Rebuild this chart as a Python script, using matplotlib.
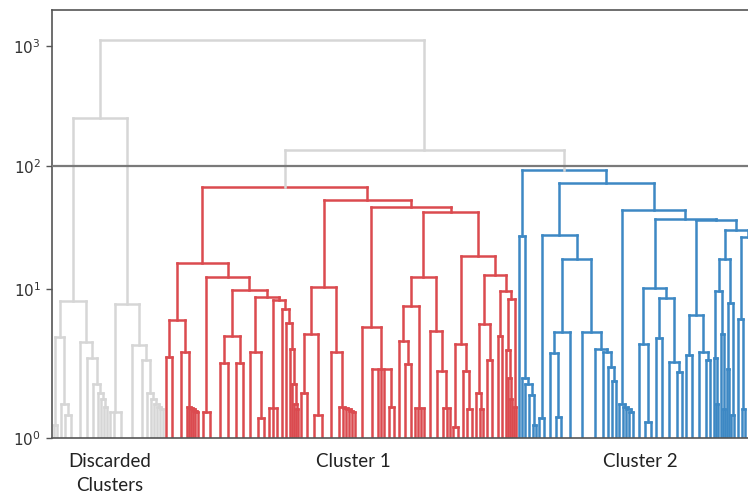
import numpy as np
import matplotlib
matplotlib.use("Agg")
import matplotlib.pyplot as plt
from matplotlib.collections import LineCollection
from matplotlib.ticker import FixedLocator, FuncFormatter

# Dendrogram.
# node = (merge height, child, child, ...); an int is a leaf group of that many
# points (they merge below 10^0, so only one line shows above the axis)
grey_left = (8.0,
    (4.25, (1.15, 3, 4), (1.5, 4, (1.3, 3, 9))),
    (3.9, 9, (3.0, 6, (2.0, 6, (1.75, 3, (1.6, 3, (1.45, 3, 3)))))))
grey_right = (7.6,
    (1.35, 4, 4, 10),
    (3.7, 12, (2.9, 7, (1.75, 4, (1.6, 3, (1.5, 3, (1.45, 3, (1.4, 3, 3))))))))
grey_top = 253

red_left = (16.1,
    (5.7, (3.05, 3, 10), (3.3, 8, (1.45, 3, (1.42, 2, (1.4, 2, (1.38, 2, (1.35, 2, 4))))))),
    (12.4, (1.35, 5, 10),
        (9.8, (4.3, (2.75, 9, 8), (2.75, 8, 6)),
            (8.6, (3.3, 8, (1.26, 7, 6)),
                (8.2, (1.43, 4, 3, 5),
                    (6.9, 5, (5.4, 4, (3.5, 3, (2.0, 2, (1.5, 2, (1.4, 2, 2)))))))))))
red_right = (52.8,
    (10.4, (4.5, (1.75, 4, 7), (1.3, 7, 9)),
           (3.3, 10, (1.45, 5, (1.42, 3, (1.4, 3, (1.38, 3, (1.35, 3, 4))))))),
    (46.3, (5.05, 10, (2.5, 9, 3, 3, 4, (1.45, 5, 5))),
        (42.1,
            (12.4, (7.3, (4.0, 6, (2.7, 6, 5)), (1.43, 3, 3, 3, 4)),
                   (4.7, 7, (2.45, 8, (1.43, 4, 3, 3)))),
            (18.4, (3.8, (1.13, 4, 5), (2.45, 5, (1.4, 4, 5))),
                   (12.9, (5.3, (1.75, 4, (1.4, 3, 4)), (2.9, 4, 6)),
                          (9.6, (4.3, 5, 4),
                                (8.3, (3.4, 3, (2.2, 2, (1.6, 2, 2))), (1.45, 2, 2))))))))
red_top = 67.6

blue_left = (26.7, 3, (2.2, 3, (2.0, 4, (1.7, 4, (1.15, 3, 3)))))
blue_right = (73,
    (27.3, (1.26, 4, 6),
           (17.4, (4.6, (3.25, 6, (1.27, 5, 6)), 11),
                  (4.6, 14, (3.5, 11, (3.3, 6, (2.6, 4, (2.1, 4, 3))))))),
    (43.7, (1.5, 4, (1.45, 3, (1.4, 3, (1.35, 3, 5)))),
        (36.9, (10.2, (3.8, 7, (1.2, 6, 5)), (8.5, (4.2, 5, 7), (2.8, 8, (2.4, 7, 4)))),
            (36.2, (6.2, (3.15, 4, 7), (3.3, 8, (2.9, 5, 4))),
                (29.9, (17.4, (9.6, (3.0, 3, (1.5, 2, 2)), (4.5, 3, (1.4, 2, 2))),
                              (7.7, (2.5, 2, 2), (1.3, 2, 4))),
                       (26.2, (5.8, 4, (1.4, 3, 4)), (12.0, (3.0, 5, 4), (2.0, 4, 4))))))))
blue_top = 93.5

right_top = 138     # red + blue
root_top = 1132     # everything
threshold = 100

cluster_labels = ["Discarded\nClusters", "Cluster 1", "Cluster 2"]
label_pos = [58, 301, 588]
yticks = [1, 10, 100, 1000]

GREY = "#d6d6d6"
RED = "#db4a4f"
BLUE = "#3d88c4"
LEAF_BASE = 0.5

segs, cols = [], []


def link(pts, color):
    segs.append(pts)
    cols.append(color)


def draw(node, start, color):
    if isinstance(node, int):
        return start + node / 2, LEAF_BASE, start + node
    h, *kids = node
    xs, pos = [], start
    for k in kids:
        xk, hk, pos = draw(k, pos, color)
        link([(xk, hk), (xk, h)], color)
        xs.append(xk)
    link([(min(xs), h), (max(xs), h)], color)
    return sum(xs) / len(xs), h, pos


def join(a, b, h, color):
    (xa, ha), (xb, hb) = a, b
    link([(xa, ha), (xa, h)], color)
    link([(xb, hb), (xb, h)], color)
    link([(xa, h), (xb, h)], color)
    return (xa + xb) / 2, h


xg, hg, pos = draw((grey_top, grey_left, grey_right), 0, GREY)
xr, hr, pos = draw((red_top, red_left, red_right), pos, RED)
xb, hb, pos = draw((blue_top, blue_left, blue_right), pos, BLUE)
right = join((xr, hr), (xb, hb), right_top, GREY)
join((xg, hg), right, root_top, GREY)

fig = plt.figure(figsize=(7.48, 4.95), dpi=100)
ax = fig.add_axes([52 / 748, 57 / 495, 712 / 748, 428 / 495])

ax.set_yscale("function", functions=(
    lambda y: np.log10(np.clip(np.asarray(y, float) - 0.45, 1e-3, None)),
    lambda t: 10 ** np.asarray(t, float) + 0.45))

lc = LineCollection(segs, colors=cols, linewidths=1.8, capstyle="projecting", zorder=2)
ax.add_collection(lc)
ax.axhline(threshold, color="#7a7a7a", lw=1.6, zorder=3)

ax.set_xlim(0, pos)
ax.set_ylim(1, 1991)

ax.yaxis.set_major_locator(FixedLocator(yticks))
ax.yaxis.set_major_formatter(FuncFormatter(lambda v, _: f"$10^{{{int(round(np.log10(v)))}}}$"))
ax.tick_params(axis="y", length=4, width=1, color="#555555", labelcolor="#333333",
               labelsize=11, pad=4)

ax.set_xticks(label_pos)
ax.set_xticklabels(cluster_labels, fontfamily="Lato", fontsize=13.5, color="#222222",
                   linespacing=1.45)
ax.tick_params(axis="x", length=0, pad=11)

for s in ax.spines.values():
    s.set_color("#555555")
    s.set_linewidth(1.2)

fig.savefig("out.png", dpi=100)
